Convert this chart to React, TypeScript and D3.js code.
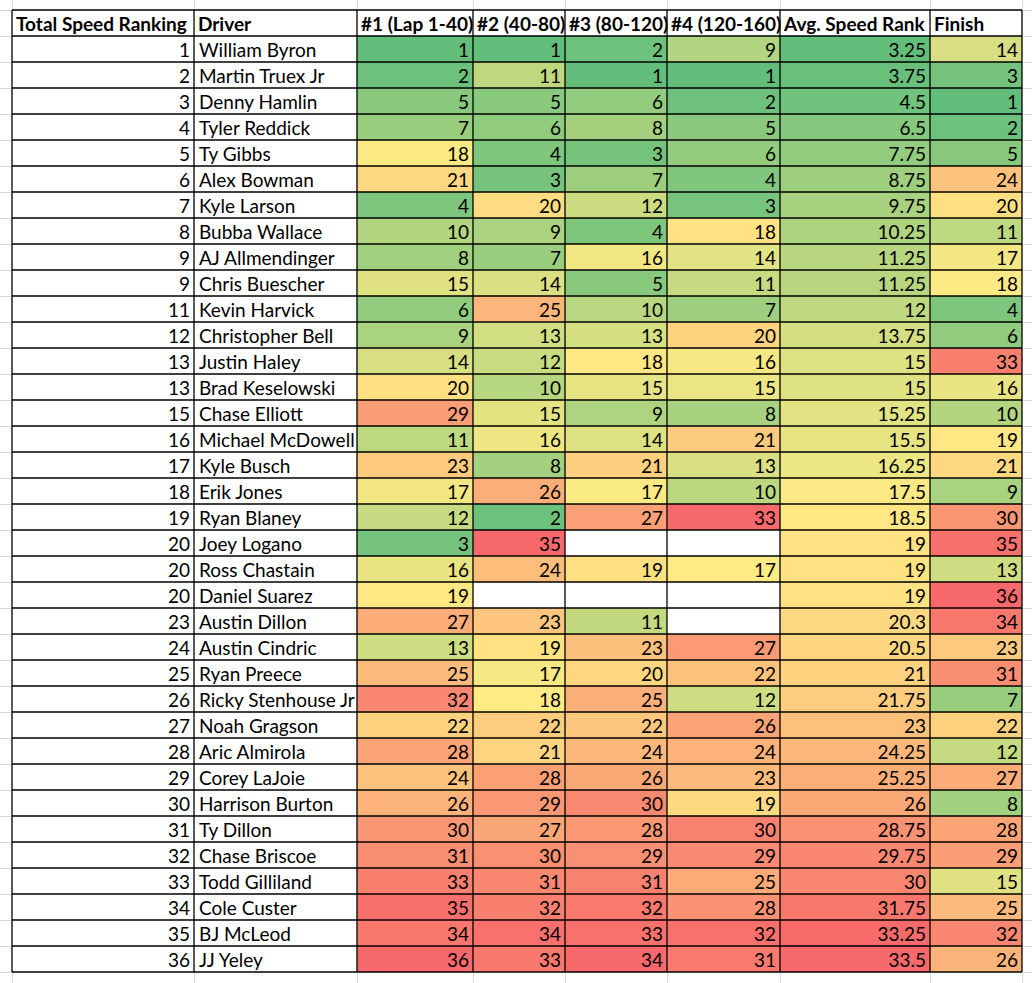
import React from 'react';
import * as d3 from 'd3';

const headers = ['Total Speed Ranking', 'Driver', '#1 (Lap 1-40)', '#2 (40-80)', '#3 (80-120)', '#4 (120-160)', 'Avg. Speed Rank', 'Finish'];

const totalRank = [1, 2, 3, 4, 5, 6, 7, 8, 9, 9, 11, 12, 13, 13, 15, 16, 17, 18, 19, 20, 20, 20, 23, 24, 25, 26, 27, 28, 29, 30, 31, 32, 33, 34, 35, 36];

const drivers = ['William Byron', 'Martin Truex Jr', 'Denny Hamlin', 'Tyler Reddick', 'Ty Gibbs', 'Alex Bowman', 'Kyle Larson',
  'Bubba Wallace', 'AJ Allmendinger', 'Chris Buescher', 'Kevin Harvick', 'Christopher Bell', 'Justin Haley', 'Brad Keselowski',
  'Chase Elliott', 'Michael McDowell', 'Kyle Busch', 'Erik Jones', 'Ryan Blaney', 'Joey Logano', 'Ross Chastain', 'Daniel Suarez',
  'Austin Dillon', 'Austin Cindric', 'Ryan Preece', 'Ricky Stenhouse Jr', 'Noah Gragson', 'Aric Almirola', 'Corey LaJoie',
  'Harrison Burton', 'Ty Dillon', 'Chase Briscoe', 'Todd Gilliland', 'Cole Custer', 'BJ McLeod', 'JJ Yeley'];

const seg1 = [1, 2, 5, 7, 18, 21, 4, 10, 8, 15, 6, 9, 14, 20, 29, 11, 23, 17, 12, 3, 16, 19, 27, 13, 25, 32, 22, 28, 24, 26, 30, 31, 33, 35, 34, 36];
const seg2 = [1, 11, 5, 6, 4, 3, 20, 9, 7, 14, 25, 13, 12, 10, 15, 16, 8, 26, 2, 35, 24, null, 23, 19, 17, 18, 22, 21, 28, 29, 27, 30, 31, 32, 34, 33];
const seg3 = [2, 1, 6, 8, 3, 7, 12, 4, 16, 5, 10, 13, 18, 15, 9, 14, 21, 17, 27, null, 19, null, 11, 23, 20, 25, 22, 24, 26, 30, 28, 29, 31, 32, 33, 34];
const seg4 = [9, 1, 2, 5, 6, 4, 3, 18, 14, 11, 7, 20, 16, 15, 8, 21, 13, 10, 33, null, 17, null, null, 27, 22, 12, 26, 24, 23, 19, 30, 29, 25, 28, 32, 31];
const avgRank = [3.25, 3.75, 4.5, 6.5, 7.75, 8.75, 9.75, 10.25, 11.25, 11.25, 12, 13.75, 15, 15, 15.25, 15.5, 16.25, 17.5, 18.5, 19, 19, 19, 20.3, 20.5, 21, 21.75, 23, 24.25, 25.25, 26, 28.75, 29.75, 30, 31.75, 33.25, 33.5];
const finish = [14, 3, 1, 2, 5, 24, 20, 11, 17, 18, 4, 6, 33, 16, 10, 19, 21, 9, 30, 35, 13, 36, 34, 23, 31, 7, 22, 12, 27, 8, 28, 29, 15, 25, 32, 26];

const App = () => {
  const ref = React.useRef(null);
  React.useEffect(() => {
    document.body.style.margin = '0';
    const width = 1032, height = 983;
    const edges = [12, 194, 357, 473, 565, 667, 780, 930, 1022];
    const top = 10, rowH = 26;
    const nRows = drivers.length + 1;
    const base = 21; // text baseline offset inside a row

    d3.select(ref.current).selectAll('*').remove();
    const svg = d3.select(ref.current)
      .append('svg')
      .attr('width', width)
      .attr('height', height)
      .style('display', 'block')
      .style('font-family', 'Lato, sans-serif');

    const y = d3.scaleLinear().domain([0, nRows]).range([top, top + nRows * rowH]);

    // excel style sheet gridlines outside the table
    const grid = svg.append('g').attr('stroke', '#d9d9d9').attr('stroke-width', 1);
    d3.range(0, nRows + 2).forEach(i => {
      const yy = Math.round(y(i)) + 0.5;
      grid.append('line').attr('x1', 0).attr('x2', edges[0]).attr('y1', yy).attr('y2', yy);
      grid.append('line').attr('x1', edges[edges.length - 1]).attr('x2', width).attr('y1', yy).attr('y2', yy);
    });
    edges.forEach(e => {
      grid.append('line').attr('x1', e + 0.5).attr('x2', e + 0.5).attr('y1', 0).attr('y2', top);
      grid.append('line').attr('x1', e + 0.5).attr('x2', e + 0.5).attr('y1', y(nRows)).attr('y2', height);
    });

    // 3-color scale per column: green (min) - yellow (median) - red (max)
    const colorFor = (vals) => {
      const v = vals.filter(d => d != null);
      const mn = d3.min(v), mx = d3.max(v), md = d3.median(v);
      return d3.scaleLinear().domain([mn, md, mx]).range(['#63BE7B', '#FFEB84', '#F8696B']).interpolate(d3.interpolateRgb);
    };

    const valueCols = [seg1, seg2, seg3, seg4, avgRank, finish];
    const cells = svg.append('g');
    valueCols.forEach((vals, ci) => {
      const color = colorFor(vals);
      const x0 = edges[ci + 2], x1 = edges[ci + 3];
      vals.forEach((v, ri) => {
        const yTop = y(ri + 1);
        cells.append('rect')
          .attr('x', x0).attr('y', yTop).attr('width', x1 - x0).attr('height', rowH)
          .attr('fill', v == null ? '#ffffff' : color(v));
        if (v != null) {
          cells.append('text')
            .attr('x', x1 - 4).attr('y', yTop + base)
            .attr('text-anchor', 'end')
            .style('font-size', '19px')
            .attr('fill', '#000')
            .text(String(v));
        }
      });
    });

    const plain = svg.append('g').style('font-size', '19px');
    totalRank.forEach((v, ri) => {
      plain.append('text').attr('x', edges[1] - 4).attr('y', y(ri + 1) + base)
        .attr('text-anchor', 'end').text(String(v));
    });
    drivers.forEach((d, ri) => {
      plain.append('text').attr('x', edges[1] + 5).attr('y', y(ri + 1) + base).text(d);
    });
    headers.forEach((h, i) => {
      plain.append('text').attr('x', edges[i] + 4).attr('y', y(0) + base)
        .style('font-weight', 'bold').text(h);
    });

    // table borders
    const b = svg.append('g').attr('stroke', '#000').attr('stroke-width', 1.3);
    d3.range(0, nRows + 1).forEach(i => {
      b.append('line').attr('x1', edges[0]).attr('x2', edges[edges.length - 1]).attr('y1', y(i)).attr('y2', y(i));
    });
    edges.forEach(e => {
      b.append('line').attr('x1', e).attr('x2', e).attr('y1', y(0)).attr('y2', y(nRows));
    });
  }, []);

  return <div ref={ref} />;
};

export default App;
